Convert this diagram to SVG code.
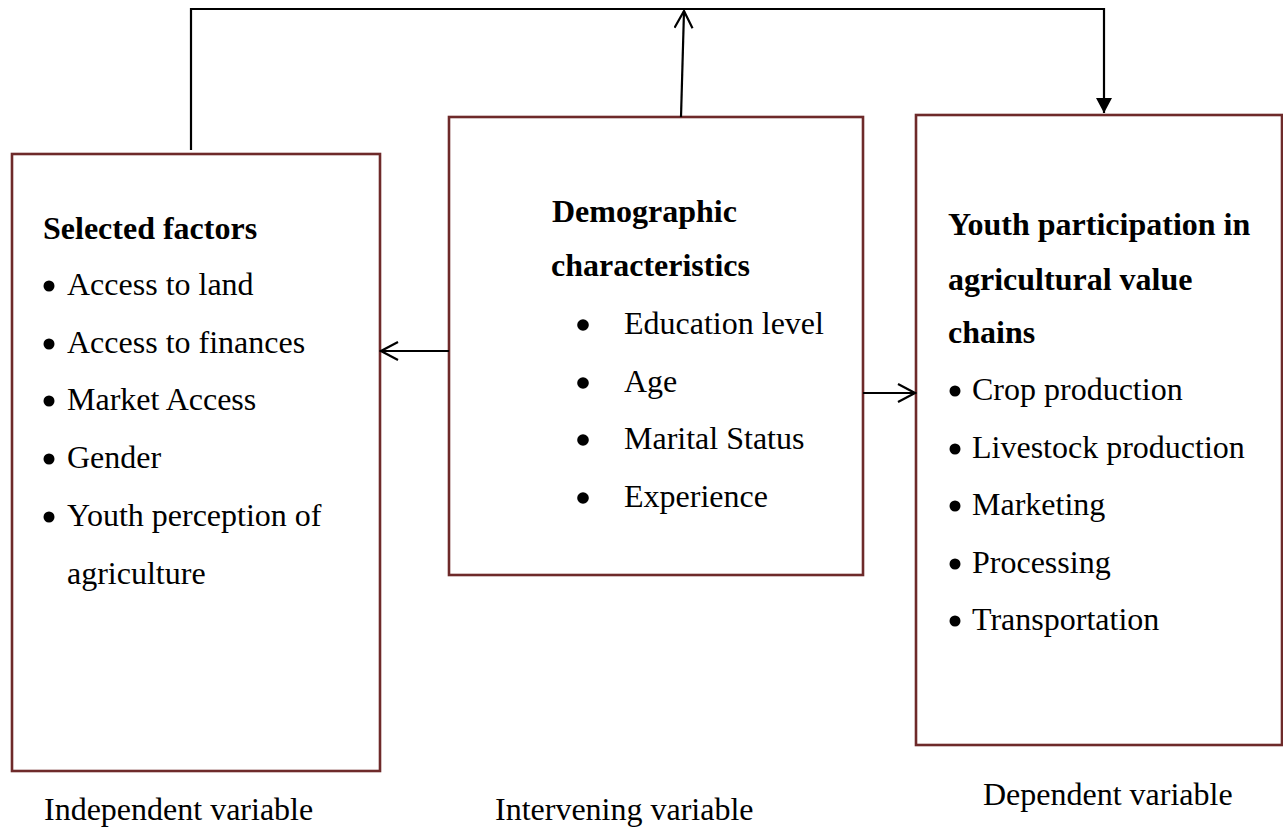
<svg xmlns="http://www.w3.org/2000/svg" width="1283" height="828" viewBox="0 0 1283 828">
  <style>
    .box { fill: #ffffff; stroke: #6e2a2a; stroke-width: 2.6; }
    .t { font-family: "Liberation Serif", "Times New Roman", serif; font-size: 32px; fill: #000; }
    .b { font-weight: bold; }
    .bul { fill: #000; }
    .conn { fill: none; stroke: #000; stroke-width: 2.2; }
  </style>
  <defs>
    <marker id="open" viewBox="0 0 20 20" refX="18" refY="10" markerWidth="20" markerHeight="20" markerUnits="userSpaceOnUse" orient="auto">
      <path d="M1,1 L18,10 L1,19" fill="none" stroke="#000" stroke-width="2.2"/>
    </marker>
    <marker id="filled" viewBox="0 0 16 16" refX="15" refY="8" markerWidth="16" markerHeight="16" markerUnits="userSpaceOnUse" orient="auto">
      <path d="M0,0 L15,8 L0,16 Z" fill="#000"/>
    </marker>
  </defs>

  <g id="node-independent">
    <rect class="box" x="12" y="154" width="368" height="617"/>
    <text class="t b" x="43" y="239">Selected factors</text>
    <circle class="bul" cx="49" cy="286" r="5.5"/>
    <text class="t" x="67" y="295">Access to land</text>
    <circle class="bul" cx="49" cy="344" r="5.5"/>
    <text class="t" x="67" y="353">Access to finances</text>
    <circle class="bul" cx="49" cy="401" r="5.5"/>
    <text class="t" x="67" y="410">Market Access</text>
    <circle class="bul" cx="49" cy="459" r="5.5"/>
    <text class="t" x="67" y="468">Gender</text>
    <circle class="bul" cx="49" cy="517" r="5.5"/>
    <text class="t" x="67" y="526">Youth perception of</text>
    <text class="t" x="67" y="584">agriculture</text>
  </g>

  <g id="node-intervening">
    <rect class="box" x="449" y="117" width="414" height="458"/>
    <text class="t b" x="552" y="222">Demographic</text>
    <text class="t b" x="551" y="276">characteristics</text>
    <circle class="bul" cx="583" cy="325" r="5.8"/>
    <text class="t" x="624" y="334">Education level</text>
    <circle class="bul" cx="583" cy="383" r="5.8"/>
    <text class="t" x="624" y="392">Age</text>
    <circle class="bul" cx="583" cy="440" r="5.8"/>
    <text class="t" x="624" y="449">Marital Status</text>
    <circle class="bul" cx="583" cy="498" r="5.8"/>
    <text class="t" x="624" y="507">Experience</text>
  </g>

  <g id="node-dependent">
    <rect class="box" x="916" y="115" width="366" height="630"/>
    <text class="t b" x="948" y="235">Youth participation in</text>
    <text class="t b" x="948" y="290">agricultural value</text>
    <text class="t b" x="948" y="343">chains</text>
    <circle class="bul" cx="955" cy="391" r="5.5"/>
    <text class="t" x="972" y="400">Crop production</text>
    <circle class="bul" cx="955" cy="449" r="5.5"/>
    <text class="t" x="972" y="458">Livestock production</text>
    <circle class="bul" cx="955" cy="506" r="5.5"/>
    <text class="t" x="972" y="515">Marketing</text>
    <circle class="bul" cx="955" cy="564" r="5.5"/>
    <text class="t" x="972" y="573">Processing</text>
    <circle class="bul" cx="955" cy="621" r="5.5"/>
    <text class="t" x="972" y="630">Transportation</text>
  </g>

  <g id="labels">
    <text class="t" x="44" y="820">Independent variable</text>
    <text class="t" x="495" y="820">Intervening variable</text>
    <text class="t" x="983" y="805">Dependent variable</text>
  </g>

  <g id="connectors">
    <path class="conn" d="M191,150 V9 H1104 V113" marker-end="url(#filled)"/>
    <line class="conn" x1="681" y1="117" x2="684" y2="11" marker-end="url(#open)"/>
    <line class="conn" x1="449" y1="351" x2="381" y2="351" marker-end="url(#open)"/>
    <line class="conn" x1="863" y1="393" x2="915" y2="393" marker-end="url(#open)"/>
  </g>
</svg>
